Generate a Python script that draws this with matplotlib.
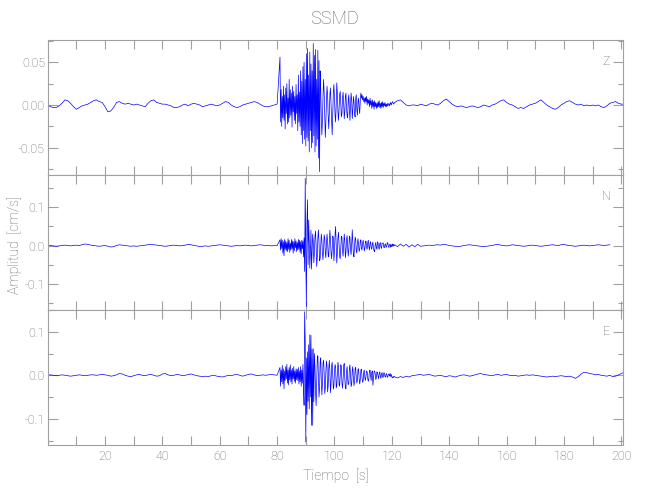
import numpy as np
import matplotlib
matplotlib.use("Agg")
import matplotlib.pyplot as plt
from matplotlib.ticker import MultipleLocator, FormatStrFormatter

plt.rcParams['font.family'] = ['Roboto', 'DejaVu Sans']
plt.rcParams['font.weight'] = 'light'
plt.rcParams['axes.labelweight'] = 'light'

title = "SSMD"
xlabel = "Tiempo  [s]"
ylabel = "Amplitud  [cm/s]"
components = ["Z", "N", "E"]

# values in units of 0.001 cm/s
# pre-event: t = 0..80 s, 1 s step
z_pre = [0, -2, -3, -3, -1, 2, 6, 5, 2, -2, -5, -3, -1, 0, 1, 3, 5, 6, 4, 3,
         -2, -8, -7, -3, 3, 4, 2, 1, 2, 1, 0, 1, 0, -1, -2, 2, 5, 6, 3, 2,
         1, 1, 0, -1, -3, -3, -2, 0, 1, -1, 1, 2, 1, 0, -2, -1, 0, 1, 0, -1,
         0, 2, 4, 3, 0, -2, -3, -2, 0, 1, 2, 3, 4, 3, 1, -1, -2, -2, -1, 0, 1]
# event: t = 81.0..120.8 s, 0.2 s step
z_evt = [56, -20, 18, -25, 10, -15, 22, -18, 12, -28, 20, -10, 25, -22, 8,
         -20, 30, -15, 18, -12, 14, -26, 22, -8, 16, -18, 10, -22, 24, -10,
         12, -30, 35, -20, 15, -25, 40, -35, 28, -45, 45, -30, 50, -40, 30,
         -48, 60, -38, 66, -42, 35, -55, 62, -30, 48, -50, 40, -44, 72, -36,
         58, -55, 65, -48, 30, -40, 64, -62, 52, -78,
         40, 20, -15, -35, -20, 10, 30, 15, -10, -38,
         -20, 5, 22, 12, -12, -28, -10, 12, 20, 0,
         -18, -35, -10, 15, 24, 8, -12, -20, 0, 26,
         14, -8, -18, -5, 12, 16, 0, -14, -10, 8,
         15, 2, -16, -8, 10, 14, -4, -12, -15, 6,
         12, -6, -18, 0, 14, 6, -16, -6, 10, 4,
         -10, -14, 8, 12, -6, -12, 4, 8, -4, -10,
         6, 14, 8, 12, 6, 10, 4, 8, 2, 9,
         4, 10, 0, 7, 2, 6, -2, 8, 0, 5,
         -4, 6, -2, 4, -5, 5, -2, 3, -4, 2,
         -3, 4, -2, 5, -3, 2, -4, 3, -2, 4,
         -3, 2, -1, 3, -2, 1, -2, 2, -1, 0,
         2, -1, 1, 3, 0, 2, 4, 3, 1, 2]
# post-event: t = 121..201 s, 1 s step
z_post = [3, 5, 6, 3, 0, -1, 0, 0, -1, 1, 0, -1, 1, 2, 1, 0, 2, 5, 7, 4,
          1, -1, -2, -1, -2, -3, -2, -1, -2, -3, -2, 0, -1, -2, 0, 1, 3, 5, 6, 3,
          1, 0, -2, -4, -3, -4, -2, 0, 1, 2, 4, 6, 3, 0, -2, -4, -5, -3, 0, 2,
          4, 5, 3, 1, 0, 1, -1, 0, -1, 0, -1, 0, -2, -3, -1, 2, 3, 4, 2, 1, 1]

n_pre = [0, 0, -1, -2, -1, 0, 1, 0, -1, 0, 1, 0, 2, 4, 3, 1, 0, -1, -2, -1,
         0, -2, -4, -3, 0, 2, 1, 0, -1, -2, -1, -2, -1, 0, 1, 2, 3, 2, 1, 0,
         -1, -2, -1, 0, 1, 0, -1, 0, 1, 3, 2, 0, -1, -3, -2, -1, -2, -1, 0, 1,
         2, 1, 0, -1, -2, -1, 0, -1, 0, 1, 0, -1, 0, 1, 2, 1, 0, 0, -1, 0, 0]
n_evt = [15, -12, 18, -8, 14, -20, 10, -27, 16, -10, 12, -14, 8, -16, 18,
         -10, 14, -18, 6, -12, 16, -8, 12, -20, 10, -14, 18, -6, 12, -16,
         8, -12, 16, -10, 14, -18, 10, -22, 14, -8, 12, -30, 20, -68, 176,
         -40, -160, 60, 120, -50,
         67, 10, -59, -20, 40, -62, -20, 30, 10, -45,
         -20, 25, 38, 0, -55, -30, 20, 41, 10, -40,
         -35, 0, 30, 15, -22, -37, -10, 28, 20, -20,
         -32, 5, 30, 10, -25, -30, 10, 40, 15, -18,
         -35, -10, 25, 20, -40, -15, 30, 50, 0, -46,
         -20, 20, 35, 5, -28, -35, -5, 24, 22, -15,
         -28, 0, 30, 12, -32, -18, 16, 26, -5, -28,
         -10, 25, 20, -12, -24, 5, 41, 10, -25, -30,
         0, 22, 16, -14, -20, 8, 18, 0, -16, -10,
         12, 15, -8, -12, 6, 14, 4, -14, -8, 10,
         12, -6, -10, 8, 14, -4, -12, 6, 10, -6,
         -10, 4, 9, -8, -14, -16, 2, 8, -6, -10,
         10, 6, -6, -10, 5, 8, -4, -8, 6, 6,
         7, -5, -6, 3, 4, -5, -3, 8, 6, -3,
         -5, 3, 4, -5, 2, -3, 4, -2, 3, -1]
# post-event: t = 121..196 s
n_post = [2, -3, 4, -2, 3, -4, 2, -3, 3, -2, -1, 0, 1, 0, 1, 2, 1, 3, 2, 0,
          -1, -2, -3, -2, 0, 1, 2, 1, 0, -1, -2, -3, -2, -1, 0, 2, 3, 1, 0, -1,
          0, 2, 1, 0, -1, -2, -1, 0, 1, 0, -1, -2, -1, 0, 1, 2, 1, 0, 2, 3,
          1, 0, -1, -2, -1, 0, 1, 0, -1, 0, 1, 2, 1, 0, 1, 2]

e_pre = [0, 1, 0, -1, 0, 1, 0, -1, -2, -1, 0, 1, 0, -1, 0, 1, 1, 0, 1, 2,
         1, 0, -2, -1, 1, 4, 3, 0, -2, -3, -1, 1, 2, 0, -1, 1, 2, 0, -2, -1,
         3, 4, 1, -1, 0, 2, 1, -1, 0, 2, 3, 1, -1, -2, -3, -2, -3, -1, 0, -2,
         -3, -4, -2, 0, -1, 1, 2, 0, -2, 0, 2, 3, 1, -1, 0, 1, 0, 1, 2, 1, 0]
e_evt = [18, -25, 12, -15, 23, -20, 15, -31, 10, -12, 20, -8, 25, -18, 12,
         -22, 18, -10, 24, -15, 12, -20, 16, -8, 20, -14, 10, -18, 15, -10,
         14, -12, 18, -20, 10, -15, 20, -25, 12, -18, 25, -30, -69, 146, 80,
         -153, 40, -90, 54, -60, 70, -77, 93, -50, 92, -115, 60, -115, 61, -61,
         50, 20, -40, -70, -20, 38, 45, 0, -50, -30,
         30, 40, -10, -45, -20, 28, 35, 5, -42, -30,
         10, 33, 20, -38, -25, 15, 34, 10, -40, -20,
         22, 30, 0, -32, -25, 10, 25, 18, -28, -24,
         5, 30, 20, -22, -25, 0, 24, 20, -18, -30,
         -10, 22, 27, -8, -28, -31, 10, 20, -10, -22,
         -18, 16, 24, 0, -26, -20, 12, 20, -8, -24,
         -14, 16, 18, -6, -18, -12, 14, 15, -8, -20,
         -10, 12, 14, -4, -16, -14, 8, 12, -6, -12,
         0, 10, 8, -8, -14, -6, 10, 12, -2, -12,
         8, 10, -23, -6, 8, 10, 4, -10, -6, 8,
         6, -2, -8, 5, 8, -2, -7, 4, 6, -5,
         -4, 6, 5, -3, -4, 3, 4, -5, -3, 2,
         3, -2, 4, -3, 2, -4, -6, -3, -5, -2]
e_post = [-4, -6, -3, -5, -2, -4, -1, 0, 1, 2, 0, 1, 2, 0, -2, -1, 0, -2, -3, -1,
          -2, -4, -2, 0, 1, 0, -2, -1, 1, 3, 4, 2, 1, 0, -1, 1, 2, 0, 1, 2,
          0, -1, 0, -2, -1, 0, 1, 0, 1, 0, -1, -2, -3, -4, -3, -2, -3, -2, -1, -2,
          -3, -2, -4, -7, -3, 3, 7, 6, 4, 3, 1, 2, 0, -1, -2, 0, -3, -2, 1, 4, 7]

traces = [(z_pre, z_evt, z_post), (n_pre, n_evt, n_post), (e_pre, e_evt, e_post)]
ylims = [(-0.0823, 0.0761), (-0.169, 0.184), (-0.159, 0.150)]
ymajor = [0.05, 0.1, 0.1]
yminor = [0.025, 0.05, 0.05]
yfmt = ["%.2f", "%.1f", "%.1f"]

txt = '#666666'
edge = '#a0a0a0'

fig = plt.figure(figsize=(6.5, 5.0), dpi=100)
left, width = 0.0734, 0.8855
bounds = [(0.6494, 0.2706), (0.380, 0.2694), (0.111, 0.269)]
axes = []
for i, (pre, evt, post) in enumerate(traces):
    b, h = bounds[i]
    ax = fig.add_axes([left, b, width, h])
    axes.append(ax)
    t_pre = np.arange(len(pre), dtype=float)
    t_evt = 81.0 + 0.2 * np.arange(len(evt))
    t_post = 121.0 + np.arange(len(post), dtype=float)
    t = np.concatenate([t_pre, t_evt, t_post])
    v = np.concatenate([pre, evt, post]) * 0.001
    ax.plot(t, v, color='#0000ff', lw=0.5)
    ax.set_xlim(0.01, 200.7)
    ax.set_ylim(*ylims[i])
    ax.xaxis.set_major_locator(MultipleLocator(20))
    ax.xaxis.set_minor_locator(MultipleLocator(10))
    ax.yaxis.set_major_locator(MultipleLocator(ymajor[i]))
    ax.yaxis.set_minor_locator(MultipleLocator(yminor[i]))
    ax.yaxis.set_major_formatter(FormatStrFormatter(yfmt[i]))
    ax.tick_params(axis='both', which='both', direction='in', top=True, right=True,
                   color=edge, width=0.8, labelcolor=txt, labelsize=9)
    ax.tick_params(axis='x', which='both', length=6.5, pad=4)
    ax.tick_params(axis='y', which='major', length=7.2, pad=2)
    ax.tick_params(axis='y', which='minor', length=3.6)
    for s in ax.spines.values():
        s.set_color(edge)
        s.set_linewidth(0.8)
    if i < 2:
        ax.tick_params(axis='x', labelbottom=False)
    ax.text(0.971, 0.84, components[i], transform=ax.transAxes, ha='center', va='center',
            color=txt, fontsize=9)

axes[2].set_xlabel(xlabel, color=txt, fontsize=10, labelpad=4, fontweight='light')
fig.text(0.022, 0.51, ylabel, rotation=90, ha='center', va='center', color=txt,
         fontsize=10, fontweight='light')
fig.text(0.514, 0.962, title, ha='center', va='center', color=txt, fontsize=13,
         fontweight='light')

fig.savefig("out.png", dpi=100)
